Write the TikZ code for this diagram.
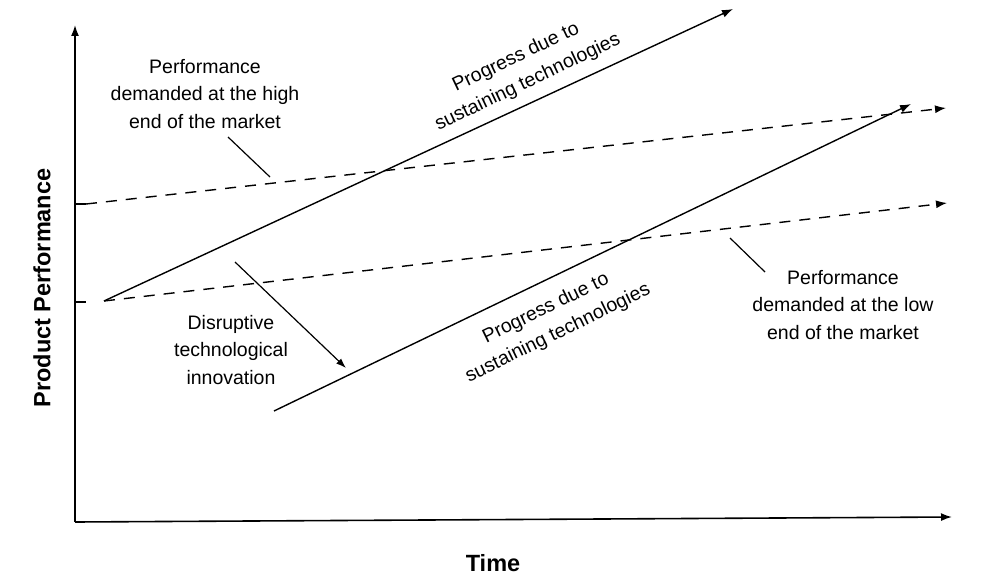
\documentclass[tikz,border=0pt]{standalone}
\usepackage{fontspec}
\setmainfont{Liberation Sans}
\usetikzlibrary{arrows.meta}
\begin{document}
\begin{tikzpicture}[x=1pt,y=-1pt,
  axis/.style={line width=1.6pt,-{Latex[length=11pt,width=8pt]}},
  solidline/.style={line width=1.4pt,-{Latex[length=11pt,width=8pt]}},
  dashline/.style={line width=1.4pt,dash pattern=on 11pt off 9pt,-{Latex[length=11pt,width=8pt]}},
  leader/.style={line width=1.2pt},
  lbl/.style={align=center,font=\fontsize{19.5}{27.5}\selectfont,inner sep=0pt},
  axlbl/.style={font=\fontsize{23.5}{26}\selectfont\bfseries,inner sep=0pt}]
\useasboundingbox (0,0) rectangle (1000,588);
% axes
\coordinate (O) at (75,522);
\coordinate (Ytop) at (75,25);
\coordinate (Xend) at (952,517);
\draw[axis] (O) -- (Ytop);
\draw[axis] (O) -- (Xend);
\coordinate (t1) at (75,204);
\coordinate (t1e) at (86,204);
\coordinate (t2) at (75,302);
\coordinate (t2e) at (86,302);
\draw[line width=1.4pt] (t1) -- (t1e);
\draw[line width=1.4pt] (t2) -- (t2e);
\node[axlbl,rotate=90] (ylab) at (42,288) {Product Performance};
\node[axlbl] (xlab) at (493,563) {Time};
% dashed demand lines
\coordinate (hs) at (86,204);
\coordinate (he) at (946,108);
\coordinate (ls) at (104,301);
\coordinate (le) at (947,203);
\draw[dashline] (hs) -- (he);
\draw[dashline] (ls) -- (le);
% sustaining lines
\coordinate (us) at (104,301);
\coordinate (ue) at (733,9);
\coordinate (bs) at (274,411);
\coordinate (be) at (911,104);
\draw[solidline] (us) -- (ue);
\draw[solidline] (bs) -- (be);
% disruptive arrow
\coordinate (ds) at (235,262);
\coordinate (de) at (346,368);
\draw[line width=1.2pt,-{Latex[length=10pt,width=7pt]}] (ds) -- (de);
% leaders
\coordinate (hl1) at (228,137);
\coordinate (hl2) at (270,177);
\draw[leader] (hl1) -- (hl2);
\coordinate (ll1) at (730,238);
\coordinate (ll2) at (765,272);
\draw[leader] (ll1) -- (ll2);
% labels
\node[lbl] (high) at (205,94) {Performance\\demanded at the high\\end of the market};
\node[lbl] (low) at (843,305) {Performance\\demanded at the low\\end of the market};
\node[lbl] (disr) at (231,350) {Disruptive\\technological\\innovation};
\node[lbl,rotate=25.5] (up) at (522,70) {Progress due to\\sustaining technologies};
\node[lbl,rotate=26] (dn) at (552,321) {Progress due to\\sustaining technologies};
\end{tikzpicture}
\end{document}
